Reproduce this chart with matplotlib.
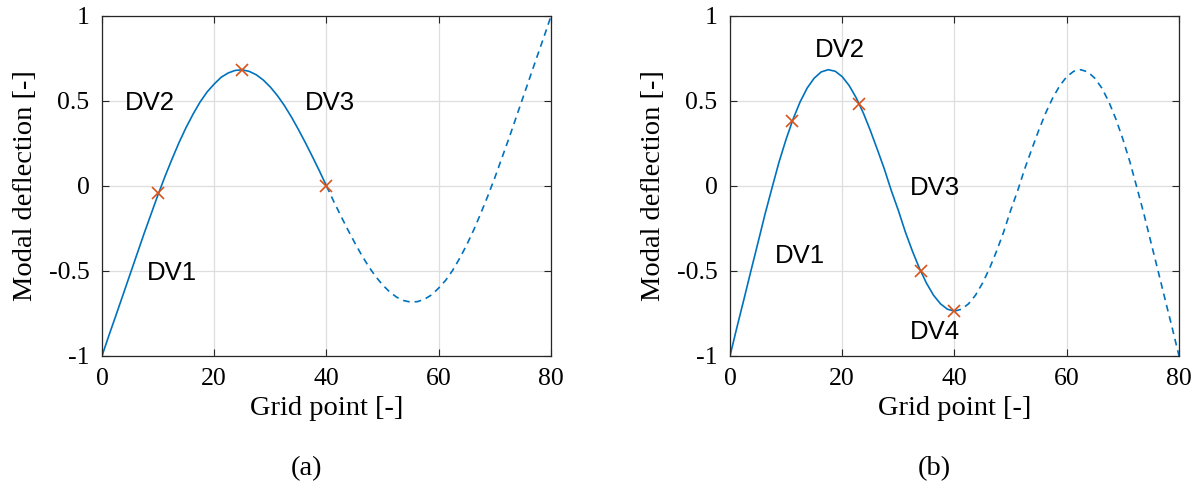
import matplotlib
matplotlib.use('Agg')
from matplotlib import pyplot as plt

# grid points (x) and modal deflection
grid_pts = [0, 1.25, 2.5, 3.75, 5, 6.25, 7.5, 8.75, 10, 11.25, 12.5, 13.75,
            15, 16.25, 17.5, 18.75, 20, 21.25, 22.5, 23.75, 25, 26.25, 27.5,
            28.75, 30, 31.25, 32.5, 33.75, 35, 36.25, 37.5, 38.75, 40,
            41.25, 42.5, 43.75, 45, 46.25, 47.5, 48.75, 50, 51.25, 52.5,
            53.75, 55, 56.25, 57.5, 58.75, 60, 61.25, 62.5, 63.75, 65, 66.25,
            67.5, 68.75, 70, 71.25, 72.5, 73.75, 75, 76.25, 77.5, 78.75, 80]

mode_a = [-1.0, -0.878, -0.76, -0.64, -0.52, -0.40, -0.28, -0.165, -0.05,
          0.058, 0.16, 0.257, 0.345, 0.424, 0.495, 0.554, 0.60, 0.640, 0.665,
          0.680, 0.683, 0.674, 0.654, 0.623, 0.582, 0.532, 0.473, 0.406,
          0.332, 0.254, 0.172, 0.088, 0.0,
          -0.088, -0.172, -0.254, -0.332, -0.406, -0.473, -0.532, -0.582,
          -0.623, -0.654, -0.674, -0.683, -0.680, -0.665, -0.640, -0.60,
          -0.554, -0.495, -0.424, -0.345, -0.257, -0.16, -0.058, 0.05, 0.165,
          0.28, 0.40, 0.52, 0.64, 0.76, 0.878, 1.0]

mode_b = [-1.0, -0.83, -0.665, -0.497, -0.332, -0.165, -0.01, 0.142, 0.275,
          0.394, 0.495, 0.576, 0.634, 0.671, 0.684, 0.675, 0.643, 0.590,
          0.518, 0.430, 0.327, 0.215, 0.10, -0.028, -0.144, -0.271, -0.383,
          -0.484, -0.571, -0.642, -0.693, -0.725, -0.736,
          -0.725, -0.693, -0.642, -0.571, -0.484, -0.383, -0.271, -0.144,
          -0.028, 0.10, 0.215, 0.327, 0.430, 0.518, 0.590, 0.643, 0.675,
          0.684, 0.671, 0.634, 0.576, 0.495, 0.394, 0.275, 0.142, -0.01,
          -0.165, -0.332, -0.497, -0.665, -0.83, -1.0]

# design variable locations
dv_x_a = [10, 25, 40]
dv_y_a = [-0.04, 0.68, 0.0]
dv_x_b = [11, 23, 34, 40]
dv_y_b = [0.38, 0.48, -0.5, -0.735]

labels_a = ['DV1', 'DV2', 'DV3']
label_pos_a = [(12.5, -0.51), (8.5, 0.49), (40.6, 0.49)]
labels_b = ['DV1', 'DV2', 'DV3', 'DV4']
label_pos_b = [(12.5, -0.41), (19.6, 0.80), (36.6, -0.01), (36.6, -0.86)]

x_ticks = [0, 20, 40, 60, 80]
y_ticks = [-1, -0.5, 0, 0.5, 1]
y_tick_labels = ['-1', '-0.5', '0', '0.5', '1']

split = 40  # solid up to here, dashed after

plt.rcParams['axes.unicode_minus'] = False
blue = '#0072BD'
orange = '#D95319'
frame = '#262626'

fig = plt.figure(figsize=(12.01, 4.86), dpi=100)

panels = [
    (0.0849, mode_a, dv_x_a, dv_y_a, labels_a, label_pos_a, '(a)'),
    (0.6078, mode_b, dv_x_b, dv_y_b, labels_b, label_pos_b, '(b)'),
]

for left, mode, dvx, dvy, labs, lpos, cap in panels:
    ax = fig.add_axes([left, 0.2675, 0.3739, 0.6996])
    k = grid_pts.index(split)
    ax.plot(grid_pts[:k + 1], mode[:k + 1], color=blue, lw=1.2)
    ax.plot(grid_pts[k:], mode[k:], color=blue, lw=1.2, linestyle=(0, (4, 3)))
    ax.plot(dvx, dvy, 'x', color=orange, markersize=9, mew=1.2)
    for t, (tx, ty) in zip(labs, lpos):
        ax.text(tx, ty, t, ha='center', va='center', fontsize=18.5,
                family='Liberation Sans', color='black')

    ax.set_xlim(0, 80)
    ax.set_ylim(-1, 1)
    ax.set_xticks(x_ticks)
    ax.set_yticks(y_ticks)
    ax.set_yticklabels(y_tick_labels)
    ax.grid(True, color='#dedede', lw=0.9)
    ax.set_axisbelow(True)
    ax.tick_params(direction='in', top=True, right=True, length=5,
                   width=0.8, color=frame, labelsize=18.5, pad=9)
    for lab in ax.get_xticklabels() + ax.get_yticklabels():
        lab.set_family('Liberation Serif')
    for s in ax.spines.values():
        s.set_color(frame)
        s.set_linewidth(0.9)

    ax.set_xlabel('Grid point [-]', fontsize=20.5, family='Liberation Serif',
                  labelpad=4)
    ax.set_ylabel('Modal deflection [-]', fontsize=20.5,
                  family='Liberation Serif', labelpad=8)
    ax.text(0.455, -0.33, cap, transform=ax.transAxes, ha='center',
            va='center', fontsize=20.5, family='Liberation Serif')

fig.savefig('out.png', dpi=100)
